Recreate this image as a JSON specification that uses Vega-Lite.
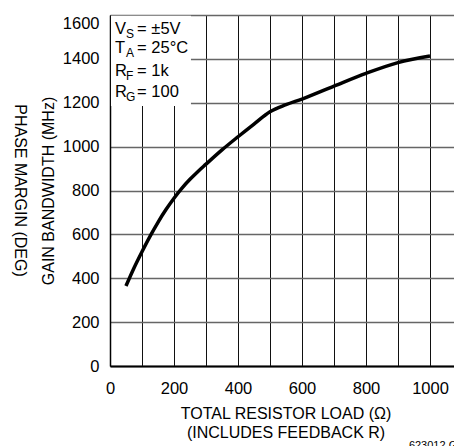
{
  "$schema": "https://vega.github.io/schema/vega-lite/v6.json",
  "width": 344,
  "height": 351,
  "autosize": {"type": "none"},
  "padding": {"left": 110, "top": 15, "right": 0, "bottom": 80},
  "background": "white",
  "config": {
    "view": {"stroke": null},
    "font": "Liberation Sans",
    "axisX": {"tickCount": 11, "format": "d",
      "labelExpr": "datum.value % 200 == 0 ? datum.label : ''", "labelFlush": false, "labelOverlap": false,
      "ticks": false, "domainColor": "black", "domainWidth": 2, "grid": true, "gridColor": "#111", "gridWidth": 1,
      "labelFont": "Liberation Sans", "labelFontSize": 16.5, "labelColor": "black", "labelPadding": 27, "labelBaseline": "alphabetic",
      "titleFont": "Liberation Sans", "titleFontSize": 16, "titleFontWeight": "normal", "titleColor": "black",
      "titleX": 175.5, "titleY": 52, "titleAlign": "center", "titleBaseline": "alphabetic", "titleLineHeight": 19},
    "axisY": {"tickCount": 8, "format": "d",
      "ticks": false, "domainColor": "black", "domainWidth": 1.5, "grid": true, "gridColor": "#666", "gridWidth": 1.6,
      "labelFont": "Liberation Sans", "labelFontSize": 16.5, "labelColor": "black", "labelPadding": 11, "labelOverlap": false,
      "titleAngle": -90, "titleX": -57, "titleY": 175.5, "titleAlign": "center", "titleBaseline": "alphabetic",
      "titleFont": "Liberation Sans", "titleFontSize": 16, "titleFontWeight": "normal", "titleColor": "black"}
  },
  "title": {"text": "PHASE MARGIN (DEG)", "orient": "left", "angle": 90, "anchor": "middle", "baseline": "alphabetic", "offset": 9,
    "font": "Liberation Sans", "fontSize": 16, "fontWeight": "normal", "color": "black"},
  "datasets": {
    "curve": [
      {"load": 50, "gbw": 365},
      {"load": 75, "gbw": 447},
      {"load": 100, "gbw": 521},
      {"load": 125, "gbw": 591},
      {"load": 150, "gbw": 655},
      {"load": 175, "gbw": 713},
      {"load": 200, "gbw": 765},
      {"load": 225, "gbw": 811},
      {"load": 250, "gbw": 851},
      {"load": 275, "gbw": 887},
      {"load": 300, "gbw": 920},
      {"load": 350, "gbw": 985},
      {"load": 400, "gbw": 1045},
      {"load": 450, "gbw": 1103},
      {"load": 500, "gbw": 1159},
      {"load": 550, "gbw": 1191},
      {"load": 600, "gbw": 1217},
      {"load": 700, "gbw": 1276},
      {"load": 800, "gbw": 1334},
      {"load": 900, "gbw": 1383},
      {"load": 1000, "gbw": 1413}
    ],
    "notes": [
      {"sym": "V", "sub": "S", "rest": "= ±5V", "y": 1512},
      {"sym": "T", "sub": "A", "rest": "= 25°C", "y": 1425},
      {"sym": "R", "sub": "F", "rest": "= 1k", "y": 1322},
      {"sym": "R", "sub": "G", "rest": "= 100", "y": 1227}
    ]
  },
  "layer": [
    {
      "data": {"name": "curve"},
      "mark": {"type": "line", "color": "black", "strokeWidth": 3.5, "interpolate": "monotone"},
      "encoding": {
        "x": {"field": "load", "type": "quantitative", "scale": {"domain": [0, 1075], "nice": false, "zero": false},
          "axis": {"title": ["TOTAL RESISTOR LOAD (Ω)", "(INCLUDES FEEDBACK R)"]}},
        "y": {"field": "gbw", "type": "quantitative", "scale": {"domain": [0, 1600], "nice": false, "zero": false},
          "axis": {"title": "GAIN BANDWIDTH (MHz)",
            "labelBaseline": {"condition": {"test": "datum.value == 1600", "value": "top"}, "value": "middle"}}}
      }
    },
    {
      "data": {"values": [{}]},
      "mark": {"type": "rect", "fill": "white"},
      "encoding": {
        "x": {"datum": 3, "type": "quantitative"},
        "x2": {"datum": 253},
        "y": {"datum": 1185, "type": "quantitative"},
        "y2": {"datum": 1597}
      }
    },
    {
      "data": {"name": "notes"},
      "mark": {"type": "text", "align": "left", "baseline": "alphabetic", "font": "Liberation Sans", "fontSize": 16.5, "fill": "black"},
      "encoding": {
        "x": {"datum": 16, "type": "quantitative"},
        "y": {"field": "y", "type": "quantitative"},
        "text": {"field": "sym"}
      }
    },
    {
      "data": {"name": "notes"},
      "mark": {"type": "text", "align": "left", "baseline": "alphabetic", "font": "Liberation Sans", "fontSize": 12, "fill": "black", "dx": 11, "dy": 4},
      "encoding": {
        "x": {"datum": 16, "type": "quantitative"},
        "y": {"field": "y", "type": "quantitative"},
        "text": {"field": "sub"}
      }
    },
    {
      "data": {"name": "notes"},
      "mark": {"type": "text", "align": "left", "baseline": "alphabetic", "font": "Liberation Sans", "fontSize": 16.5, "fill": "black", "dx": 22},
      "encoding": {
        "x": {"datum": 16, "type": "quantitative"},
        "y": {"field": "y", "type": "quantitative"},
        "text": {"field": "rest"}
      }
    },
    {
      "data": {"values": [{"code": "623012 G40"}]},
      "mark": {"type": "text", "align": "left", "baseline": "top", "font": "Liberation Sans", "fontSize": 11, "fill": "black"},
      "encoding": {
        "x": {"datum": 934, "type": "quantitative"},
        "y": {"datum": -337, "type": "quantitative"},
        "text": {"field": "code"}
      }
    }
  ]
}
